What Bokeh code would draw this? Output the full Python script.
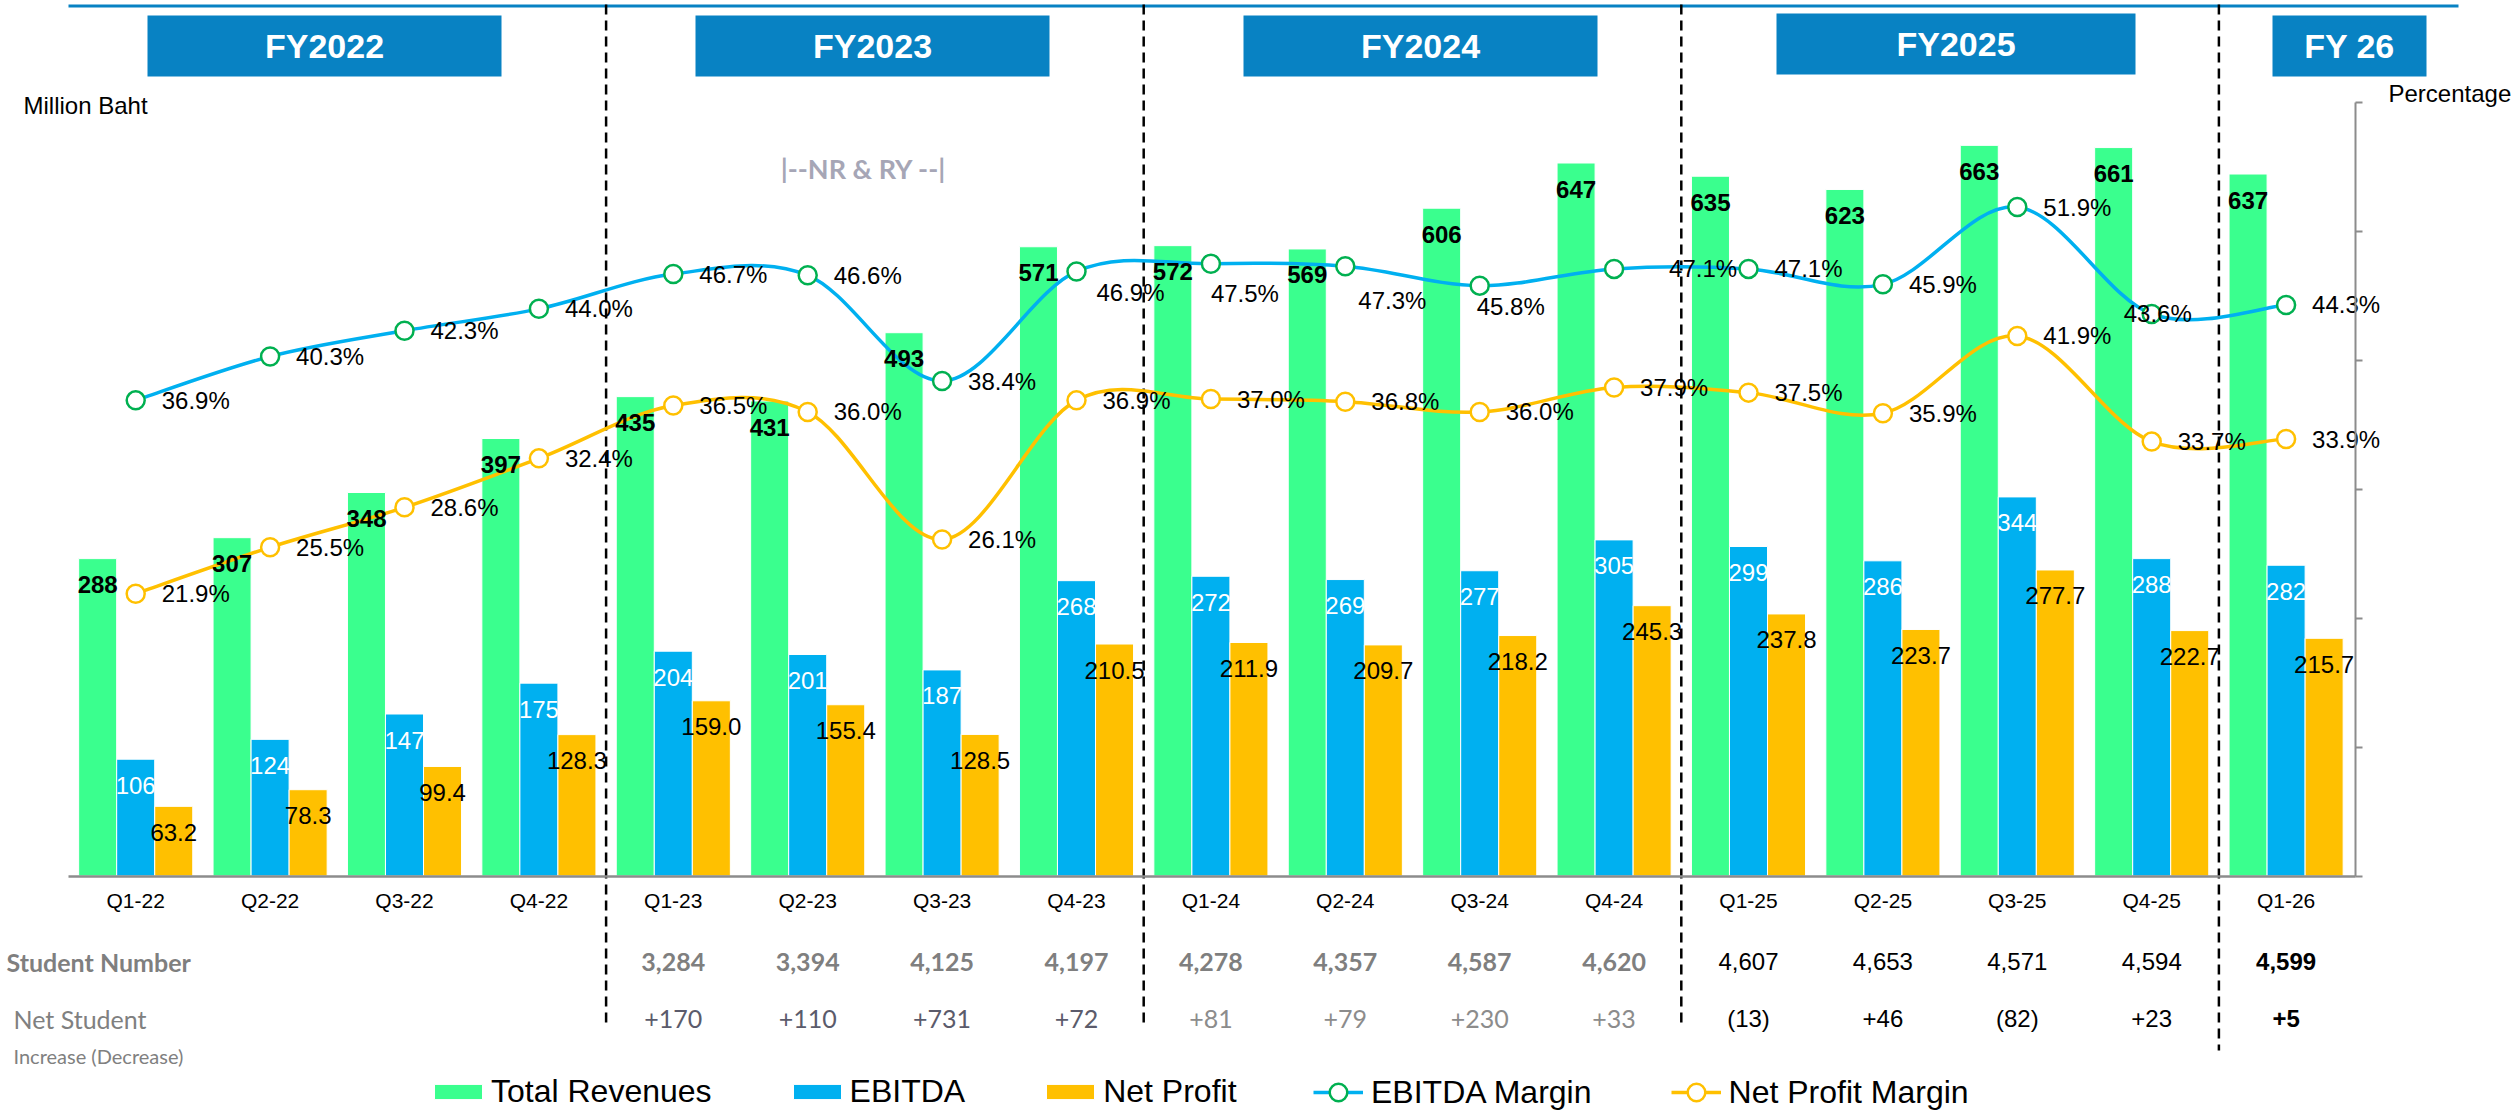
from bokeh.plotting import figure
from bokeh.models import (Range1d, LinearAxis, FixedTicker, ColumnDataSource,
                          Legend, LegendItem)
from bokeh.transform import dodge
from bokeh.core.properties import value
from bokeh.embed import file_html
from bokeh.resources import INLINE

# ---------------- data ----------------
quarters = ["Q1-22", "Q2-22", "Q3-22", "Q4-22", "Q1-23", "Q2-23", "Q3-23", "Q4-23",
            "Q1-24", "Q2-24", "Q3-24", "Q4-24", "Q1-25", "Q2-25", "Q3-25", "Q4-25", "Q1-26"]
total_revenues = [288, 307, 348, 397, 435, 431, 493, 571, 572, 569, 606, 647, 635, 623, 663, 661, 637]
ebitda = [106, 124, 147, 175, 204, 201, 187, 268, 272, 269, 277, 305, 299, 286, 344, 288, 282]
net_profit = [63.2, 78.3, 99.4, 128.3, 159.0, 155.4, 128.5, 210.5, 211.9, 209.7, 218.2,
              245.3, 237.8, 223.7, 277.7, 222.7, 215.7]
ebitda_margin = [36.9, 40.3, 42.3, 44.0, 46.7, 46.6, 38.4, 46.9, 47.5, 47.3, 45.8,
                 47.1, 47.1, 45.9, 51.9, 43.6, 44.3]
net_profit_margin = [21.9, 25.5, 28.6, 32.4, 36.5, 36.0, 26.1, 36.9, 37.0, 36.8, 36.0,
                     37.9, 37.5, 35.9, 41.9, 33.7, 33.9]
fiscal_years = ["FY2022", "FY2023", "FY2024", "FY2025", "FY 26"]
student_quarters = quarters[4:]
student_number = [3284, 3394, 4125, 4197, 4278, 4357, 4587, 4620, 4607, 4653, 4571, 4594, 4599]
net_student_change = [170, 110, 731, 72, 81, 79, 230, 33, -13, 46, -82, 23, 5]
pct_ticks = [0, 10, 20, 30, 40, 50, 60]

# ---------------- styles / layout ----------------
GREEN = "#3AFF8E"
BLUE = "#00B0F0"
GOLD = "#FFC000"
MARK_GREEN = "#00B050"
HDR = "#0882C3"
AXIS_GRAY = "#8C8C8C"
ARIAL = "Liberation Sans"
CALIBRI = "Lato"

W, H = 2517, 1110
PAGE = 0
CAT_W = 134.4
X_LEFT = 68.0
BASE_Y = 875.5
PX_PER_MB = 1.102
PX_PER_PCT = 12.89
BW = 0.283


def xd(px):
    return (px - X_LEFT) / CAT_W - 0.5


def yd(py):
    return (BASE_Y - py) / PX_PER_MB


def pdv(py):
    return (BASE_Y - py) / PX_PER_PCT


p = figure(width=W, height=H, x_range=Range1d(xd(PAGE), xd(PAGE + W)),
           y_range=Range1d(yd(PAGE + H), yd(PAGE)),
           x_axis_type=None, y_axis_type=None, toolbar_location=None,
           output_backend="svg", min_border=0, outline_line_color=None,
           background_fill_color="white", border_fill_color="white")
p.extra_y_ranges = {"pct": Range1d(pdv(PAGE + H), pdv(PAGE))}

n = len(quarters)
idx = list(range(n))

# axes
xaxis = LinearAxis(fixed_location=0, ticker=FixedTicker(ticks=idx),
                   major_label_overrides={i: q for i, q in enumerate(quarters)},
                   bounds=(-0.5, 16.52), axis_line_color=AXIS_GRAY, axis_line_width=2.5,
                   major_tick_in=0, major_tick_out=0, minor_tick_in=0, minor_tick_out=0,
                   major_label_standoff=13, major_label_text_font=ARIAL,
                   major_label_text_font_size="21px", major_label_text_color="black")
p.add_layout(xaxis, "below")

raxis = LinearAxis(y_range_name="pct", fixed_location=16.515,
                   ticker=FixedTicker(ticks=pct_ticks),
                   major_label_overrides={t: "" for t in pct_ticks},
                   bounds=(0, 60), axis_line_color=AXIS_GRAY, axis_line_width=2,
                   major_tick_line_color=AXIS_GRAY, major_tick_line_width=2,
                   major_tick_in=0, major_tick_out=7, minor_tick_in=0, minor_tick_out=0,
                   major_label_text_font_size="0px")
p.add_layout(raxis, "right")

# top line, headers, dashed separators
p.segment(x0=[xd(68)], y0=[yd(5.5)], x1=[xd(2458)], y1=[yd(5.5)],
          line_color=HDR, line_width=3)

hdr_left = [147, 695, 1243, 1776, 2272]
hdr_right = [501, 1049, 1597, 2135, 2426]
hdr_top = [15, 15, 15, 13, 15]
hdr_bottom = [76, 76, 76, 74, 76]
hsrc = ColumnDataSource(dict(
    left=[xd(v) for v in hdr_left], right=[xd(v) for v in hdr_right],
    top=[yd(v) for v in hdr_top], bottom=[yd(v) for v in hdr_bottom],
    cx=[xd((a + b) / 2) for a, b in zip(hdr_left, hdr_right)],
    cy=[yd((a + b) / 2) for a, b in zip(hdr_top, hdr_bottom)],
    t=fiscal_years))
p.quad(left="left", right="right", top="top", bottom="bottom", source=hsrc,
       fill_color=HDR, line_color=None)
p.text(x="cx", y="cy", text="t", source=hsrc, text_color="white",
       text_font=value(ARIAL), text_font_style="bold", text_font_size="34px",
       text_align="center", text_baseline="middle")

sep_x = [i - 0.5 for i in range(4, n, 4)]
sep_end = [1025, 1025, 1027, 1050]
p.segment(x0=sep_x, y0=[yd(4)] * len(sep_x), x1=sep_x, y1=[yd(v) for v in sep_end],
          line_color="black", line_width=2.5, line_dash="10 6")

# bars
src = ColumnDataSource(dict(
    x=idx, rev=total_revenues, eb=ebitda, np=net_profit,
    em=ebitda_margin, npm=net_profit_margin,
    rev_t=[f"{v:d}" for v in total_revenues], eb_t=[f"{v:d}" for v in ebitda],
    np_t=[f"{v:.1f}" for v in net_profit],
    em_t=[f"{v:.1f}%" for v in ebitda_margin],
    npm_t=[f"{v:.1f}%" for v in net_profit_margin]))

r_rev = p.vbar(x=dodge("x", -BW, range=p.x_range), top="rev", bottom=0, width=BW,
               source=src, fill_color=GREEN, line_color="white", line_width=1)
r_eb = p.vbar(x="x", top="eb", bottom=0, width=BW, source=src,
              fill_color=BLUE, line_color="white", line_width=1)
r_np = p.vbar(x=dodge("x", BW, range=p.x_range), top="np", bottom=0, width=BW,
              source=src, fill_color=GOLD, line_color="white", line_width=1)


# smooth margin curves (cubic Bezier segments through the data points)
def bezier_source(xs, ys):
    m = len(xs)
    d = dict(x0=[], y0=[], x1=[], y1=[], cx0=[], cy0=[], cx1=[], cy1=[])
    for i in range(m - 1):
        xm, ym = (xs[i - 1], ys[i - 1]) if i > 0 else (xs[i], ys[i])
        xp, yp = (xs[i + 2], ys[i + 2]) if i + 2 < m else (xs[i + 1], ys[i + 1])
        d["x0"].append(xs[i]); d["y0"].append(ys[i])
        d["x1"].append(xs[i + 1]); d["y1"].append(ys[i + 1])
        d["cx0"].append(xs[i] + (xs[i + 1] - xm) / 6)
        d["cy0"].append(ys[i] + (ys[i + 1] - ym) / 6)
        d["cx1"].append(xs[i + 1] - (xp - xs[i]) / 6)
        d["cy1"].append(ys[i + 1] - (yp - ys[i]) / 6)
    return ColumnDataSource(d)


r_em_line = p.bezier(x0="x0", y0="y0", x1="x1", y1="y1", cx0="cx0", cy0="cy0",
                     cx1="cx1", cy1="cy1", source=bezier_source(idx, ebitda_margin),
                     y_range_name="pct", line_color=BLUE, line_width=3.5)
r_npm_line = p.bezier(x0="x0", y0="y0", x1="x1", y1="y1", cx0="cx0", cy0="cy0",
                      cx1="cx1", cy1="cy1", source=bezier_source(idx, net_profit_margin),
                      y_range_name="pct", line_color=GOLD, line_width=3.5)
r_em_pts = p.scatter(x="x", y="em", source=src, y_range_name="pct", size=18,
                     fill_color="white", line_color=MARK_GREEN, line_width=2.5)
r_npm_pts = p.scatter(x="x", y="npm", source=src, y_range_name="pct", size=18,
                      fill_color="white", line_color=GOLD, line_width=2.5)

# data labels
LBL_DY = 26
p.text(x=dodge("x", -BW, range=p.x_range), y="rev", text="rev_t", source=src,
       y_offset=LBL_DY, text_font=value(ARIAL), text_font_style="bold",
       text_font_size="24px", text_color="black", text_align="center",
       text_baseline="middle")
p.text(x="x", y="eb", text="eb_t", source=src, y_offset=LBL_DY,
       text_font=value(ARIAL), text_font_size="24px", text_color="white",
       text_align="center", text_baseline="middle")
p.text(x=dodge("x", BW, range=p.x_range), y="np", text="np_t", source=src,
       y_offset=LBL_DY, text_font=value(ARIAL), text_font_size="24px",
       text_color="black", text_align="center", text_baseline="middle")

em_dx = [26] * n
em_dy = [0] * n
for i, (dx, dy) in {7: (20, 21), 8: (0, 30), 9: (13, 34), 10: (-3, 21),
                    11: (55, 0), 15: (-28, 0)}.items():
    em_dx[i] = dx
    em_dy[i] = dy
lsrc = ColumnDataSource(dict(x=idx, em=ebitda_margin, npm=net_profit_margin,
                             em_t=src.data["em_t"], npm_t=src.data["npm_t"],
                             dx=em_dx, dy=em_dy))
p.text(x="x", y="em", text="em_t", source=lsrc, y_range_name="pct",
       x_offset="dx", y_offset="dy", text_font=value(ARIAL), text_font_size="24px",
       text_color="black", text_align="left", text_baseline="middle")
p.text(x="x", y="npm", text="npm_t", source=lsrc, y_range_name="pct",
       x_offset=26, text_font=value(ARIAL), text_font_size="24px",
       text_color="black", text_align="left", text_baseline="middle")

# axis titles and note
p.text(x=[xd(23)], y=[yd(105)], text=["Million Baht"], text_font=value(ARIAL),
       text_font_size="24px", text_color="black", text_align="left",
       text_baseline="middle")
p.text(x=[xd(2388)], y=[yd(93)], text=["Percentage"], text_font=value(ARIAL),
       text_font_size="24px", text_color="black", text_align="left",
       text_baseline="middle")
p.text(x=[xd(863)], y=[yd(168)], text=["|--NR & RY --|"], text_font=value(CALIBRI),
       text_font_style="bold", text_font_size="27px", text_color="#A6A6B6",
       text_align="center", text_baseline="middle")

# student table
ROW1, ROW2, ROW3 = 961, 1018, 1055
p.text(x=[xd(6)], y=[yd(ROW1)], text=["Student Number"], text_font=value(CALIBRI),
       text_font_style="bold", text_font_size="25px", text_color="#7F7F7F",
       text_align="left", text_baseline="middle")
p.text(x=[xd(13)], y=[yd(ROW2)], text=["Net Student"], text_font=value(CALIBRI),
       text_font_size="25px", text_color="#808080", text_align="left",
       text_baseline="middle")
p.text(x=[xd(13)], y=[yd(ROW3)], text=["Increase (Decrease)"], text_font=value(CALIBRI),
       text_font_size="20px", text_color="#808080", text_align="left",
       text_baseline="middle")

sx = [quarters.index(q) for q in student_quarters]
s_font, s_style, s_color, n_font, n_style, n_color, t_size = [], [], [], [], [], [], []
for q in student_quarters:
    yr = q[-2:]
    if yr in ("23", "24"):
        s_font.append(CALIBRI); s_style.append("bold"); s_color.append("#7F7F7F")
        n_font.append(CALIBRI); n_style.append("normal")
        n_color.append("#5B5B6B" if yr == "23" else "#8C8C8C")
        t_size.append("25px")
    elif yr == "25":
        s_font.append(ARIAL); s_style.append("normal"); s_color.append("black")
        n_font.append(ARIAL); n_style.append("normal"); n_color.append("black")
        t_size.append("24px")
    else:
        s_font.append(ARIAL); s_style.append("bold"); s_color.append("black")
        n_font.append(ARIAL); n_style.append("bold"); n_color.append("black")
        t_size.append("24px")

tsrc = ColumnDataSource(dict(
    x=sx, y1=[yd(ROW1)] * len(sx), y2=[yd(ROW2)] * len(sx),
    st=[f"{v:,}" for v in student_number],
    nt=[f"+{v}" if v >= 0 else f"({-v})" for v in net_student_change],
    sf=s_font, ss=s_style, sc=s_color, nf=n_font, ns=n_style, nc=n_color, fs=t_size))
p.text(x="x", y="y1", text="st", source=tsrc, text_font="sf", text_font_style="ss",
       text_color="sc", text_font_size="fs", text_align="center",
       text_baseline="middle")
p.text(x="x", y="y2", text="nt", source=tsrc, text_font="nf", text_font_style="ns",
       text_color="nc", text_font_size="fs", text_align="center",
       text_baseline="middle")

# legends (bars, then lines with larger glyph boxes for full-size markers)
bar_legend = Legend(items=[
    LegendItem(label="Total Revenues", renderers=[r_rev]),
    LegendItem(label="EBITDA", renderers=[r_eb]),
    LegendItem(label="Net Profit", renderers=[r_np]),
], orientation="horizontal", location=(428, 0), padding=0, margin=0, spacing=75,
    glyph_width=60, glyph_height=19, label_standoff=3,
    label_text_font=ARIAL, label_text_font_size="32px", label_text_color="black",
    border_line_color=None, background_fill_alpha=0)
p.add_layout(bar_legend)

line_legend = Legend(items=[
    LegendItem(label="EBITDA Margin", renderers=[r_em_line, r_em_pts]),
    LegendItem(label="Net Profit Margin", renderers=[r_npm_line, r_npm_pts]),
], orientation="horizontal", location=(1313, -4), padding=0, margin=0, spacing=79,
    glyph_width=50, glyph_height=44, label_standoff=8,
    label_text_font=ARIAL, label_text_font_size="32px", label_text_color="black",
    border_line_color=None, background_fill_alpha=0)
p.add_layout(line_legend)

open("out.html", "w").write(file_html(p, INLINE, title="Quarterly results"))
